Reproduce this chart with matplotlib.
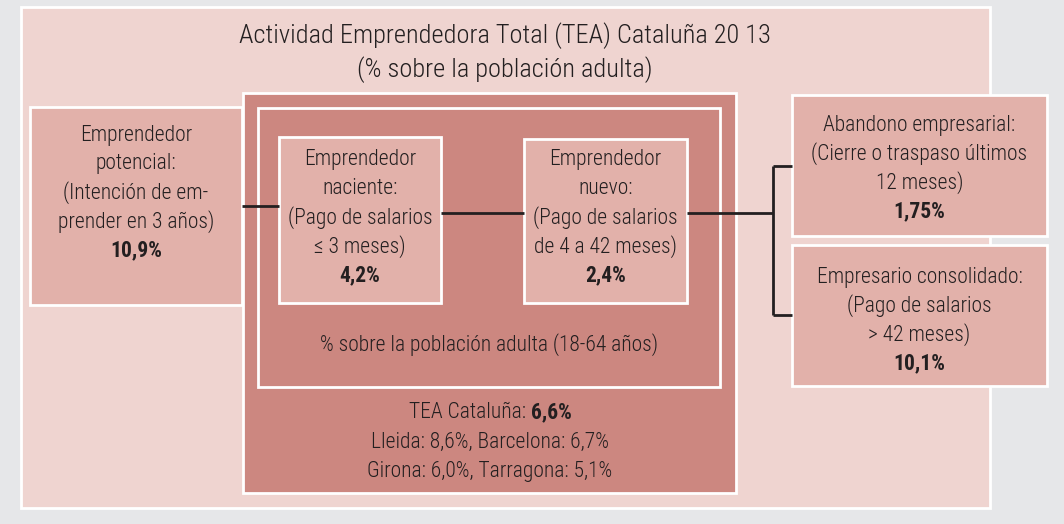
import matplotlib
matplotlib.use("Agg")
import matplotlib.pyplot as plt
from matplotlib.patches import Rectangle

plt.rcParams['font.family'] = ['Roboto Condensed', 'DejaVu Sans']

# texto y valores
titulo = ["Actividad Emprendedora Total (TEA) Cataluña 20 13",
          "(% sobre la población adulta)"]
cajas_texto = {
    "potencial": ["Emprendedor", "potencial:", "(Intención de em-", "prender en 3 años)"],
    "naciente": ["Emprendedor", "naciente:", "(Pago de salarios", "≤ 3 meses)"],
    "nuevo": ["Emprendedor", "nuevo:", "(Pago de salarios", "de 4 a 42 meses)"],
    "abandono": ["Abandono empresarial:", "(Cierre o traspaso últimos", "12 meses)"],
    "consolidado": ["Empresario consolidado:", "(Pago de salarios", "> 42 meses)"],
}
cajas_valor = {"potencial": 10.9, "naciente": 4.2, "nuevo": 2.4,
               "abandono": 1.75, "consolidado": 10.1}
tea_total = 6.6
provincias = ["Lleida", "Barcelona", "Girona", "Tarragona"]
tea_prov = [8.6, 6.7, 6.0, 5.1]
nota_poblacion = "% sobre la población adulta (18-64 años)"

# colores
gris = "#E6E7E9"
rosa_claro = "#EFD4D0"
rosa_medio = "#E2B1AA"
rosa_oscuro = "#CC8780"
tinta = "#231F20"

# posiciones en pixeles (x0, y0, x1, y1)
pos = {
    "fondo": (21, 7, 990, 508),
    "potencial": (30, 107, 242, 305),
    "tea": (243, 93, 736, 493),
    "interior": (258, 108, 720, 387),
    "naciente": (279, 137, 441, 303),
    "nuevo": (524, 139, 687, 303),
    "abandono": (792, 95, 1047, 236),
    "consolidado": (792, 245, 1047, 386),
}
texto_y = {"potencial": 135, "naciente": 160, "nuevo": 160,
           "abandono": 125, "consolidado": 277}
paso = 28.8


def fmt(v):
    s = ("%.2f" % v).rstrip("0") if v != round(v, 1) else "%.1f" % v
    return s.replace(".", ",") + "%"


fig = plt.figure(figsize=(10.64, 5.24), dpi=100)
fig.patch.set_facecolor(gris)
ax = fig.add_axes([0, 0, 1, 1])
ax.set_xlim(0, 1064)
ax.set_ylim(524, 0)
ax.axis("off")


def caja(nombre, color, lw=2):
    x0, y0, x1, y1 = pos[nombre]
    ax.add_patch(Rectangle((x0, y0), x1 - x0, y1 - y0, facecolor=color,
                           edgecolor="white", linewidth=lw))


caja("fondo", rosa_claro)
caja("potencial", rosa_medio)
caja("tea", rosa_oscuro)
caja("interior", rosa_oscuro)
caja("naciente", rosa_medio)
caja("nuevo", rosa_medio)
caja("abandono", rosa_medio)
caja("consolidado", rosa_medio)

# conectores
lineas = [
    ([242, 279], [206, 206]),
    ([441, 524], [213, 213]),
    ([687, 773], [213, 213]),
    ([773, 773], [166, 315]),
    ([773, 792], [166, 166]),
    ([773, 792], [315, 315]),
]
for xs, ys in lineas:
    ax.plot(xs, ys, color=tinta, linewidth=2, solid_capstyle="butt")

fs = 15.5
fw = "light"
# titulo
ax.text(505, 36, titulo[0], ha="center", va="center", fontsize=19, color=tinta, fontweight=fw)
ax.text(505, 70, titulo[1], ha="center", va="center", fontsize=19, color=tinta, fontweight=fw)

for nombre, lineas_txt in cajas_texto.items():
    x0, y0, x1, y1 = pos[nombre]
    cx = (x0 + x1) / 2
    y = texto_y[nombre]
    for i, t in enumerate(lineas_txt):
        ax.text(cx, y + i * paso, t, ha="center", va="center", fontsize=fs,
                color=tinta, fontweight=fw)
    ax.text(cx, y + len(lineas_txt) * paso, fmt(cajas_valor[nombre]), ha="center",
            va="center", fontsize=fs, color=tinta, fontweight="bold")

ax.text(489, 345, nota_poblacion, ha="center", va="center", fontsize=fs,
        color=tinta, fontweight=fw)

# TEA Cataluña con valor en negrita
cx = 490
t1 = ax.text(cx, 412, "TEA Cataluña: ", ha="right", va="center", fontsize=fs,
             color=tinta, fontweight=fw)
t2 = ax.text(cx, 412, fmt(tea_total), ha="left", va="center", fontsize=fs,
             color=tinta, fontweight="bold")
fig.canvas.draw()
r = fig.canvas.get_renderer()
w1 = t1.get_window_extent(r).width
w2 = t2.get_window_extent(r).width
shift = (w1 - w2) / 2
t1.set_x(cx + shift)
t2.set_x(cx + shift)

l1 = "%s: %s, %s: %s" % (provincias[0], fmt(tea_prov[0]), provincias[1], fmt(tea_prov[1]))
l2 = "%s: %s, %s: %s" % (provincias[2], fmt(tea_prov[2]), provincias[3], fmt(tea_prov[3]))
ax.text(cx, 442, l1, ha="center", va="center", fontsize=fs, color=tinta, fontweight=fw)
ax.text(cx, 471, l2, ha="center", va="center", fontsize=fs, color=tinta, fontweight=fw)

fig.savefig("out.png", dpi=100, facecolor=gris)
